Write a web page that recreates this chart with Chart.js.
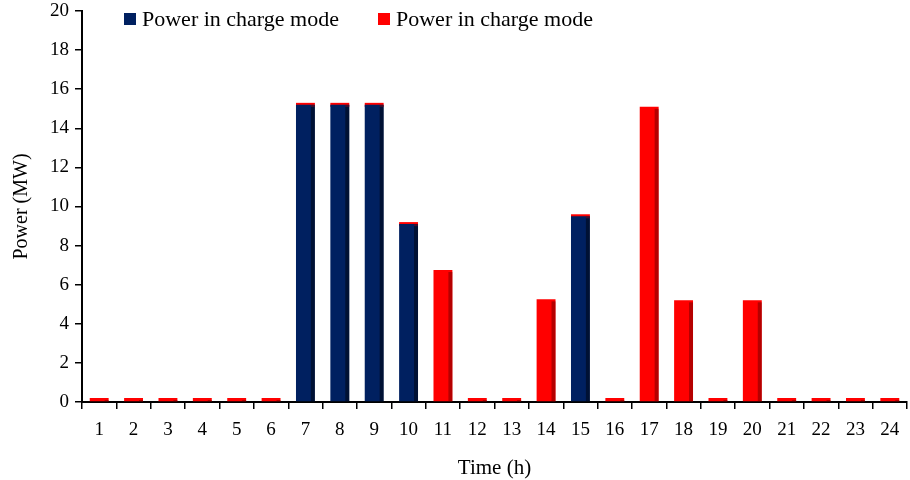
<!DOCTYPE html>
<html>
<head>
<meta charset="utf-8">
<script src="https://cdn.jsdelivr.net/npm/chart.js@4.4.1/dist/chart.umd.min.js"></script>
<style>
html,body{margin:0;padding:0;background:#fff;}
#wrap{position:relative;width:910px;height:480px;}
#legend{position:absolute;top:6px;left:0;font-family:'Liberation Serif',serif;font-size:22px;color:#000;}
#legend span.item{position:absolute;white-space:nowrap;line-height:26px;}
#legend span.box{display:inline-block;width:12px;height:12px;margin-right:6px;vertical-align:1px;}
</style>
</head>
<body>
<div id="wrap"><canvas id="c" width="910" height="480"></canvas><div id="legend"></div></div>
<script>
const hours = ['1','2','3','4','5','6','7','8','9','10','11','12','13','14','15','16','17','18','19','20','21','22','23','24'];
const chargePower = [0,0,0,0,0,0,15.2,15.2,15.2,9.1,0,0,0,0,9.5,0,0,0,0,0,0,0,0,0];
const dischargePower = [0,0,0,0,0,0,0,0,0,0,6.75,0,0,5.25,0,0,15.1,5.2,0,5.2,0,0,0,0];
const yTicks = [0,2,4,6,8,10,12,14,16,18,20];
const seriesNames = ['Power in charge mode','Power in charge mode'];
const seriesColors = ['#002060','#ff0000'];

const shade = {
  id:'shade',
  afterDatasetsDraw(chart){
    const ctx = chart.ctx;
    chart.data.datasets.forEach((ds,di)=>{
      const meta = chart.getDatasetMeta(di);
      meta.data.forEach((bar,i)=>{
        const h = Math.abs(bar.base - bar.y);
        if (h < 1) return;
        const right = bar.x + bar.width/2;
        const top = Math.min(bar.y, bar.base);
        ctx.save();
        ctx.fillStyle = di===0 ? 'rgba(0,0,0,0.45)' : 'rgba(120,0,0,0.55)';
        ctx.fillRect(right-4, top+2, 4, h-2);
        ctx.restore();
      });
    });
  }
};

const chart = new Chart(document.getElementById('c'), {
  type:'bar',
  data:{
    labels: hours,
    datasets:[
      {label:seriesNames[0], data:chargePower, backgroundColor:seriesColors[0], borderWidth:0, barPercentage:0.55, categoryPercentage:1.0, stack:'s'},
      {label:seriesNames[1], data:dischargePower, backgroundColor:seriesColors[1], borderWidth:0, barPercentage:0.55, categoryPercentage:1.0, stack:'s', minBarLength:4}
    ]
  },
  options:{
    responsive:false,
    animation:false,
    devicePixelRatio:1,
    layout:{autoPadding:false, padding:{left:6,right:3,top:11,bottom:-5}},
    plugins:{
      legend:{display:false},
      tooltip:{enabled:false}
    },
    scales:{
      x:{
        stacked:true,
        grid:{display:true, drawOnChartArea:false, offset:true, color:'#000', tickLength:7, lineWidth:1.5},
        border:{display:true, color:'#000', width:2},
        ticks:{font:{family:'Liberation Serif',size:19}, color:'#000', padding:10, maxRotation:0, autoSkip:false},
        title:{display:true, text:'Time (h)', font:{family:'Liberation Serif',size:21}, color:'#000', padding:{top:4}}
      },
      y:{
        stacked:true,
        min:0, max:20,
        afterBuildTicks(scale){ scale.ticks = yTicks.map(v=>({value:v})); },
        afterFit(scale){ scale.paddingTop = 0; scale.paddingBottom = 0; },
        grid:{display:true, drawOnChartArea:false, color:'#000', tickLength:7, lineWidth:1.5},
        border:{display:true, color:'#000', width:2},
        ticks:{font:{family:'Liberation Serif',size:19}, color:'#000', padding:6},
        title:{display:true, text:'Power (MW)', font:{family:'Liberation Serif',size:20}, color:'#000', padding:{bottom:10}}
      }
    }
  },
  plugins:[shade]
});

const legendEl = document.getElementById('legend');
const legendX = [124, 378];
seriesNames.forEach((n,i)=>{
  const it = document.createElement('span');
  it.className='item';
  it.style.left = legendX[i]+'px';
  const b = document.createElement('span');
  b.className='box';
  b.style.background = seriesColors[i];
  it.appendChild(b);
  it.appendChild(document.createTextNode(n));
  legendEl.appendChild(it);
});
</script>
</body>
</html>
